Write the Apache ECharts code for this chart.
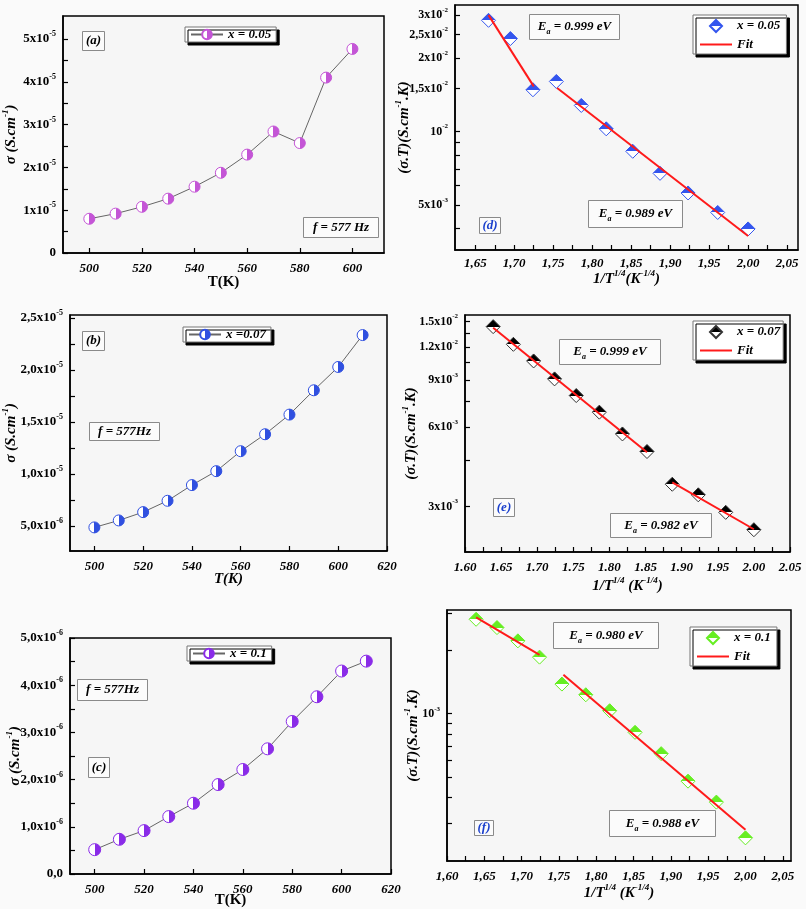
<!DOCTYPE html>
<html>
<head>
<meta charset="utf-8">
<script src="https://cdn.jsdelivr.net/npm/echarts@6/dist/echarts.min.js"></script>
<style>
html,body{margin:0;padding:0;background:#fafafa}
#main{width:806px;height:909px}
</style>
</head>
<body>
<div id="main"></div>
<script>
// ---- data: sigma vs T ----
var tempA = [500, 510, 520, 530, 540, 550, 560, 570, 580, 590, 600];
var sigmaA = [0.80e-5, 0.92e-5, 1.08e-5, 1.27e-5, 1.55e-5, 1.875e-5, 2.30e-5, 2.84e-5, 2.57e-5, 4.10e-5, 4.77e-5];
var tempBC = [500, 510, 520, 530, 540, 550, 560, 570, 580, 590, 600, 610];
var sigmaB = [4.87e-6, 5.54e-6, 6.34e-6, 7.43e-6, 8.94e-6, 1.028e-5, 1.22e-5, 1.383e-5, 1.572e-5, 1.806e-5, 2.03e-5, 2.337e-5];
var sigmaC = [0.516e-6, 0.735e-6, 0.919e-6, 1.216e-6, 1.499e-6, 1.895e-6, 2.214e-6, 2.652e-6, 3.232e-6, 3.755e-6, 4.30e-6, 4.51e-6];

// ---- data: sigma.T vs 1/T^(1/4) ----
var invD = [1.667, 1.695, 1.724, 1.754, 1.786, 1.818, 1.852, 1.887, 1.923, 1.961, 2.000];
var sigTD = [0.02856, 0.02404, 0.01483, 0.01604, 0.01279, 0.01026, 0.00830, 0.00674, 0.00560, 0.00466, 0.00399];
var fitD1X = [1.667, 1.725], fitD1Y = [0.0300, 0.01531];
var fitD2X = [1.755, 2.000], fitD2Y = [0.01507, 0.00373];

var invEF = [1.639, 1.667, 1.695, 1.724, 1.754, 1.786, 1.818, 1.852, 1.887, 1.923, 1.961, 2.000];
var sigTE = [0.01436, 0.01231, 0.01065, 0.00911, 0.00788, 0.00682, 0.00564, 0.00484, 0.00364, 0.00332, 0.00285, 0.00245];
var fitE1X = [1.639, 1.852], fitE1Y = [0.01423, 0.00481];
var fitE2X = [1.887, 2.000], fitE2Y = [0.00370, 0.00246];

var sigTF = [2.818e-3, 2.573e-3, 2.224e-3, 1.860e-3, 1.384e-3, 1.231e-3, 1.033e-3, 8.15e-4, 6.45e-4, 4.77e-4, 3.79e-4, 2.56e-4];
var fitF1X = [1.639, 1.724], fitF1Y = [2.88e-3, 1.908e-3];
var fitF2X = [1.756, 2.000], fitF2Y = [1.532e-3, 2.80e-4];

// ---- tick labels ----
var tLabA = ['500', '520', '540', '560', '580', '600'];
var tLabBC = ['500', '520', '540', '560', '580', '600', '620'];
var yValA = [0, 1e-5, 2e-5, 3e-5, 4e-5, 5e-5];
var yLabA = ['0', '1x10^-5', '2x10^-5', '3x10^-5', '4x10^-5', '5x10^-5'];
var yValB = [5e-6, 1e-5, 1.5e-5, 2e-5, 2.5e-5];
var yLabB = ['5,0x10^-6', '1,0x10^-5', '1,5x10^-5', '2,0x10^-5', '2,5x10^-5'];
var yValC = [0, 1e-6, 2e-6, 3e-6, 4e-6, 5e-6];
var yLabC = ['0,0', '1,0x10^-6', '2,0x10^-6', '3,0x10^-6', '4,0x10^-6', '5,0x10^-6'];

var xValD = [1.65, 1.70, 1.75, 1.80, 1.85, 1.90, 1.95, 2.00, 2.05];
var xLabD = ['1,65', '1,70', '1,75', '1,80', '1,85', '1,90', '1,95', '2,00', '2,05'];
var xValEF = [1.60, 1.65, 1.70, 1.75, 1.80, 1.85, 1.90, 1.95, 2.00, 2.05];
var xLabE = ['1.60', '1.65', '1.70', '1.75', '1.80', '1.85', '1.90', '1.95', '2.00', '2.05'];
var xLabF = ['1,60', '1,65', '1,70', '1,75', '1,80', '1,85', '1,90', '1,95', '2,00', '2,05'];
var yValD = [0.03, 0.025, 0.02, 0.015, 0.01, 0.005];
var yLabD = ['3x10^-2', '2,5x10^-2', '2x10^-2', '1,5x10^-2', '10^-2', '5x10^-3'];
var yTickD = [0.004, 0.006, 0.007, 0.008, 0.009];
var yValE = [0.015, 0.012, 0.009, 0.006, 0.003];
var yLabE = ['1.5x10^-2', '1.2x10^-2', '9x10^-3', '6x10^-3', '3x10^-3'];
var yTickE = [0.0135, 0.0105, 0.0075, 0.0045];
var yValF = [0.001];
var yLabF = ['10^-3'];
var yTickF = [0.003, 0.002, 0.0009, 0.0008, 0.0007, 0.0006, 0.0005, 0.0004, 0.0003];

var FONT = '"Liberation Serif", "DejaVu Serif", "Times New Roman", serif';

function lg(v) { return Math.log10(v); }
function pairs(xs, ys, log) {
  return xs.map(function (x, i) { return [x, log ? lg(ys[i]) : ys[i]]; });
}
function toRich(str) {
  var p = str.split('^');
  return p.length > 1 ? '{m|' + p[0] + '}{s|' + p[1] + '}' : '{m|' + str + '}';
}
function richSet(size, italic) {
  var st = italic ? 'italic' : 'normal';
  return {
    m: { fontFamily: FONT, fontWeight: 'bold', fontStyle: st, fontSize: size, color: '#000', lineHeight: size + 5 },
    s: { fontFamily: FONT, fontWeight: 'bold', fontStyle: st, fontSize: Math.round(size * 0.62), color: '#000', verticalAlign: 'top' },
    n: { fontFamily: FONT, fontWeight: 'bold', fontStyle: st, fontSize: size, color: '#000', lineHeight: size + 6 }
  };
}
function labeller(vals, labs) {
  return function (v) {
    for (var i = 0; i < vals.length; i++) {
      if (Math.abs(vals[i] - v) <= Math.abs(vals[i]) * 1e-6 + 1e-15) return toRich(labs[i]);
    }
    return '';
  };
}

function axis(gi, min, max, vals, labs, ticks, log, name, nameGap, italicLab, italicName, labSize, labMargin) {
  var v = log ? vals.map(lg) : vals;
  var t = (log ? ticks.map(lg) : ticks).concat(v);
  return {
    type: 'value', gridIndex: gi, min: min, max: max,
    name: name, nameLocation: 'middle', nameGap: nameGap, nameMoveOverlap: false,
    nameTextStyle: { rich: richSet(15, italicName) },
    axisLine: { show: true, onZero: false, lineStyle: { color: '#000', width: 1.5 } },
    axisTick: { show: true, inside: true, length: 5, customValues: t, lineStyle: { color: '#000', width: 1.2 } },
    axisLabel: { customValues: v, formatter: labeller(v, labs), rich: richSet(labSize || 13, italicLab), margin: labMargin || 7 },
    splitLine: { show: false }
  };
}

var grids = [
  [63, 16, 321, 237],   // a
  [67, 315, 320, 236],  // b
  [70, 638, 321, 236],  // c
  [455, 5, 343, 245],   // d
  [465, 315, 325, 237], // e
  [447, 610, 344, 251]  // f
].map(function (g) {
  return { left: g[0], top: g[1], width: g[2], height: g[3], show: true,
    borderColor: '#000', borderWidth: 1.5, backgroundColor: '#f6f6f6' };
});

var tempName = '{n|T(K)}';
var invName = '{n|1/T}{s|1/4}{n|(K}{s|-1/4}{n|)}';
var invName2 = '{n|1/T}{s|1/4}{n| (K}{s|-1/4}{n|)}';
var sigName = '{n|σ (S.cm}{s|-1}{n|)}';
var sigTName = '{n|(σ.T)(S.cm}{s|-1}{n|.K)}';

var xAxes = [
  axis(0, 490, 612, [500, 520, 540, 560, 580, 600], tLabA, [], false, tempName, 19, true, false),
  axis(1, 490, 620, [500, 520, 540, 560, 580, 600, 620], tLabBC, [], false, tempName, 18, true, true),
  axis(2, 490, 620, [500, 520, 540, 560, 580, 600, 620], tLabBC, [], false, tempName, 16, true, false),
  axis(3, 1.624, 2.064, xValD, xLabD, [1.675, 1.725, 1.775, 1.825, 1.875, 1.925, 1.975, 2.025], false, invName, 19, true, true, 13, 5),
  axis(4, 1.60, 2.05, xValEF, xLabE, [1.625, 1.675, 1.725, 1.775, 1.825, 1.875, 1.925, 1.975, 2.025], false, invName2, 24, true, true),
  axis(5, 1.60, 2.061, xValEF, xLabF, [1.625, 1.675, 1.725, 1.775, 1.825, 1.875, 1.925, 1.975, 2.025], false, invName2, 22, true, true)
];
var yAxes = [
  axis(0, 0, 5.54e-5, yValA, yLabA, [0.5e-5, 1.5e-5, 2.5e-5, 3.5e-5, 4.5e-5], false, sigName, 41, false, true),
  axis(1, 2.6e-6, 2.53e-5, yValB, yLabB, [7.5e-6, 1.25e-5, 1.75e-5, 2.25e-5], false, sigName, 48, false, true),
  axis(2, 0, 5e-6, yValC, yLabC, [0.5e-6, 1.5e-6, 2.5e-6, 3.5e-6, 4.5e-6], false, sigName, 44, false, true),
  axis(3, lg(0.00327), lg(0.033), yValD, yLabD, yTickD, true, sigTName, 40, false, true, 12),
  axis(4, lg(0.002018), lg(0.01589), yValE, yLabE, yTickE, true, sigTName, 43, false, true, 12),
  axis(5, lg(1.986e-4), lg(3.12e-3), yValF, yLabF, yTickF, true, sigTName, 23, false, true, 12)
];

function halfH(c) { // right half coloured circle
  return new echarts.graphic.LinearGradient(0, 0, 1, 0, [
    { offset: 0, color: '#ffffff' }, { offset: 0.5, color: '#ffffff' },
    { offset: 0.5, color: c }, { offset: 1, color: c }]);
}
function halfV(c) { // top half coloured diamond
  return new echarts.graphic.LinearGradient(0, 0, 0, 1, [
    { offset: 0, color: c }, { offset: 0.5, color: c },
    { offset: 0.5, color: '#ffffff' }, { offset: 1, color: '#ffffff' }]);
}
function tLine(name, gi, xs, ys, c, size) {
  return { name: name, type: 'line', xAxisIndex: gi, yAxisIndex: gi, data: pairs(xs, ys, false),
    symbol: 'circle', symbolSize: size,
    lineStyle: { color: '#666', width: 1 },
    itemStyle: { color: halfH(c), borderColor: c, borderWidth: 1 } };
}
function pts(name, gi, xs, ys, c, border) {
  return { name: name, type: 'scatter', xAxisIndex: gi, yAxisIndex: gi, data: pairs(xs, ys, true),
    symbol: 'diamond', symbolSize: [14, 14],
    itemStyle: { color: halfV(c), borderColor: border, borderWidth: 1, opacity: 1 } };
}
function fit(gi, xs, ys) {
  return { name: 'Fit', type: 'line', xAxisIndex: gi, yAxisIndex: gi, data: pairs(xs, ys, true),
    symbol: 'none', lineStyle: { color: '#ff1a1a', width: 2 }, itemStyle: { color: '#ff1a1a' }, z: 3 };
}

var series = [
  tLine('x = 0.05', 0, tempA, sigmaA, '#c455d6', 11),
  tLine('x =0.07', 1, tempBC, sigmaB, '#3050e0', 11),
  tLine('x = 0.1', 2, tempBC, sigmaC, '#8a2be8', 12),
  pts('x = 0.05 ', 3, invD, sigTD, '#3355ee', '#3355ee'),
  fit(3, fitD1X, fitD1Y), fit(3, fitD2X, fitD2Y),
  pts('x = 0.07', 4, invEF, sigTE, '#000000', '#333'),
  fit(4, fitE1X, fitE1Y), fit(4, fitE2X, fitE2Y),
  pts('x = 0.1 ', 5, invEF, sigTF, '#66ee22', '#66ee22'),
  fit(5, fitF1X, fitF1Y), fit(5, fitF2X, fitF2Y)
];

// legend icons padded to the full item box so they keep their shape
var ICON_DIAMOND = 'path://M16,0L22,6L16,12L10,6ZM0,6L0,6M32,6L32,6';
var ICON_FIT = 'path://M0,5L32,5L32,7L0,7ZM0,0L0,0M0,12L0,12';

function legendCfg(names, left, top, vertical) {
  var data = vertical
    ? [{ name: names[0], icon: ICON_DIAMOND }, { name: names[1], icon: ICON_FIT }]
    : names;
  return {
    data: data, left: left, top: top, orient: vertical ? 'vertical' : 'horizontal',
    itemWidth: 32, itemHeight: 12, itemGap: 5,
    padding: vertical ? [4, 3, 3, 6] : [1, 5, 1, 5],
    backgroundColor: '#fff', borderColor: '#777', borderWidth: 1,
    shadowColor: '#000', shadowBlur: 0, shadowOffsetX: 3, shadowOffsetY: 3,
    selectedMode: false,
    textStyle: { fontFamily: FONT, fontWeight: 'bold', fontStyle: 'italic', fontSize: 13, color: '#000' }
  };
}
var legends = [
  legendCfg(['x = 0.05'], 185, 27, false),
  legendCfg(['x =0.07'], 183, 327, false),
  legendCfg(['x = 0.1'], 187, 646, false),
  legendCfg(['x = 0.05 ', 'Fit'], 693, 15, true),
  legendCfg(['x = 0.07', 'Fit'], 693, 321, true),
  legendCfg(['x = 0.1 ', 'Fit'], 690, 627, true)
];

var boxRich = {
  i: { fontFamily: FONT, fontWeight: 'bold', fontStyle: 'italic', fontSize: 13, fill: '#000', lineHeight: 18 },
  b: { fontFamily: FONT, fontWeight: 'bold', fontStyle: 'italic', fontSize: 13, fill: '#1a3fcc', lineHeight: 16 },
  sub: { fontFamily: FONT, fontWeight: 'bold', fontStyle: 'italic', fontSize: 8, fill: '#000', verticalAlign: 'bottom' }
};
function box(x, y, w, h, text) {
  return { type: 'group', left: x, top: y, children: [
    { type: 'rect', shape: { x: 0, y: 0, width: w, height: h }, style: { fill: '#fbfbfb', stroke: '#8a8a8a', lineWidth: 1 } },
    { type: 'text', x: w / 2, y: h / 2, style: { text: text, rich: boxRich, align: 'center', verticalAlign: 'middle' } }
  ] };
}
var graphics = [
  box(82, 31, 22, 19, '{i|(a)}'),
  box(303, 217, 75, 20, '{i|f = 577 Hz}'),
  box(82, 331, 22, 19, '{i|(b)}'),
  box(89, 422, 70, 18, '{i|f = 577Hz}'),
  box(77, 679, 70, 21, '{i|f = 577Hz}'),
  box(88, 757, 21, 20, '{i|(c)}'),
  box(529, 14, 90, 25, '{i|E}{sub|a}{i| = 0.999 eV}'),
  box(588, 200, 94, 27, '{i|E}{sub|a}{i| = 0.989 eV}'),
  box(479, 217, 21, 16, '{b|(d)}'),
  box(559, 339, 101, 25, '{i|E}{sub|a}{i| = 0.999 eV}'),
  box(610, 513, 101, 24, '{i|E}{sub|a}{i| = 0.982 eV}'),
  box(493, 498, 21, 18, '{b|(e)}'),
  box(553, 622, 105, 26, '{i|E}{sub|a}{i| = 0.980 eV}'),
  box(609, 810, 106, 26, '{i|E}{sub|a}{i| = 0.988 eV}'),
  box(474, 820, 19, 15, '{b|(f)}')
];

var chart = echarts.init(document.getElementById('main'));
chart.setOption({
  backgroundColor: '#fafafa',
  animation: false,
  grid: grids,
  xAxis: xAxes,
  yAxis: yAxes,
  legend: legends,
  series: series,
  graphic: graphics
});
</script>
</body>
</html>
